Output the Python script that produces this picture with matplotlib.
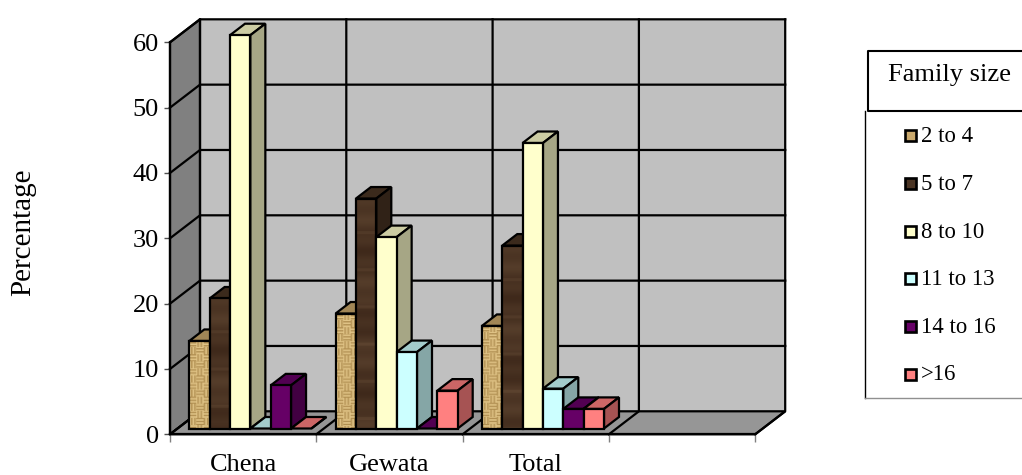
import matplotlib
matplotlib.use('Agg')
import matplotlib.pyplot as plt
from matplotlib.patches import Polygon, Rectangle
import numpy as np

plt.rcParams['font.family'] = ['Liberation Serif', 'DejaVu Serif']

categories = ['Chena', 'Gewata', 'Total']
family_sizes = ['2 to 4', '5 to 7', '8 to 10', '11 to 13', '14 to 16', '>16']
size_2_4 = [13.4, 17.6, 15.7]
size_5_7 = [19.9, 35.2, 28.0]
size_8_10 = [60.2, 29.3, 43.7]
size_11_13 = [0.0, 11.7, 6.1]
size_14_16 = [6.6, 0.0, 3.0]
size_over_16 = [0.0, 5.8, 3.0]
y_ticks = [0, 10, 20, 30, 40, 50, 60]

series = [size_2_4, size_5_7, size_8_10, size_11_13, size_14_16, size_over_16]
front_colors = ['#c9a86c', '#4a3423', '#ffffcc', '#ccffff', '#660066', '#ff8080']

W, H = 1022, 475
CAT_PX = 146.3
VAL_PX = 6.533
LW = 1.6
# depth of the box, of one bar and of the gap in front of the bars, in data units
WALL_DX, WALL_DY = 30 / CAT_PX, 23 / VAL_PX
BAR_DX, BAR_DY = 15 / CAT_PX, 11.5 / VAL_PX
BASE_DX, BASE_DY = 7.7 / CAT_PX, 5.8 / VAL_PX
BAR_START = 19.3 / CAT_PX
BAR_W = 20.35 / CAT_PX
WALL_TOP = 60 + WALL_DY


def shade(hex_color, f):
    rgb = np.array(matplotlib.colors.to_rgb(hex_color))
    return tuple(rgb * f)


def burlap(h_px):
    # woven sacking: blocks of thick threads running alternately across and along
    yy, xx = np.mgrid[0:h_px, 0:20]
    cell = ((xx // 7) + (yy // 7)) % 2
    threads = np.where(cell == 0, np.sin(yy * 2.1), np.sin(xx * 2.1))
    light = np.array([0.90, 0.79, 0.55])
    dark = np.array([0.62, 0.48, 0.24])
    t = (0.62 + 0.38 * threads)[..., None]
    return light * t + dark * (1 - t)


def wood(h_px):
    # dark planks with soft horizontal grain and the odd pale streak
    yy = np.arange(h_px)[:, None]
    grain = 0.5 * np.sin(yy * 0.09) + 0.35 * np.sin(yy * 0.31 + 1.0) + 0.8 * (np.sin(yy * 0.17 + 2.0) > 0.97)
    base = np.array([0.29, 0.20, 0.135])
    img = base[None, None, :] + grain[..., None] * np.array([0.05, 0.045, 0.035])
    return np.clip(np.repeat(img, 4, axis=1), 0, 1)


textures = {0: burlap, 1: wood}

fig = plt.figure(figsize=(W / 100, H / 100), dpi=100)
ax = fig.add_axes([170 / W, 1 - 434.3 / H, 4 * CAT_PX / W, 60 * VAL_PX / H])
ax.patch.set_alpha(0)

# box walls and floor
ax.add_patch(Polygon([(WALL_DX, WALL_DY), (4 + WALL_DX, WALL_DY), (4 + WALL_DX, WALL_TOP), (WALL_DX, WALL_TOP)],
                     closed=True, fc='#c0c0c0', ec='none', clip_on=False, zorder=1))
ax.add_patch(Polygon([(0, 0), (WALL_DX, WALL_DY), (WALL_DX, WALL_TOP), (0, 60)],
                     closed=True, fc='#808080', ec='black', lw=LW, clip_on=False, zorder=1))
ax.add_patch(Polygon([(0, 0), (4, 0), (4 + WALL_DX, WALL_DY), (WALL_DX, WALL_DY)],
                     closed=True, fc='#969696', ec='black', lw=LW, clip_on=False, zorder=1))

# gridlines on the back and left walls
for v in y_ticks[1:]:
    ax.plot([0, WALL_DX, 4 + WALL_DX], [v, v + WALL_DY, v + WALL_DY], color='black', lw=LW,
            clip_on=False, zorder=2, solid_joinstyle='miter')
for c in range(5):
    ax.plot([c, c + WALL_DX, c + WALL_DX], [0, WALL_DY, WALL_TOP], color='black', lw=LW,
            clip_on=False, zorder=2)

# bars, painted left to right so each one hides the side of the previous
z = 3
for c in range(len(categories)):
    for s, values in enumerate(series):
        val = values[c]
        x0 = c + BAR_START + s * BAR_W
        x1 = x0 + BAR_W
        y0 = BASE_DY
        y1 = BASE_DY + val
        col = front_colors[s]
        ax.add_patch(Polygon([(x0, y1), (x1, y1), (x1 + BAR_DX, y1 + BAR_DY), (x0 + BAR_DX, y1 + BAR_DY)],
                             closed=True, fc=shade(col, 0.8), ec='black', lw=LW, clip_on=False, zorder=z))
        ax.add_patch(Polygon([(x1, y0), (x1 + BAR_DX, y0 + BAR_DY), (x1 + BAR_DX, y1 + BAR_DY), (x1, y1)],
                             closed=True, fc=shade(col, 0.65), ec='black', lw=LW, clip_on=False, zorder=z))
        if s in textures and val > 0:
            ax.imshow(textures[s](int(val * VAL_PX)), extent=(x0, x1, y0, y1), aspect='auto', clip_on=False,
                      zorder=z, interpolation='bilinear')
            ax.add_patch(Rectangle((x0, y0), BAR_W, val, fc='none', ec='black', lw=LW, clip_on=False, zorder=z))
        elif val > 0:
            ax.add_patch(Rectangle((x0, y0), BAR_W, val, fc=col, ec='black', lw=LW, clip_on=False, zorder=z))
        z += 1

ax.set_xlim(0, 4)
ax.set_ylim(0, 60)
ax.set_yticks(y_ticks)
ax.set_xticks([0, 1, 2, 3, 4])
ax.set_xticklabels([])
ax.set_xticks([0.5, 1.5, 2.5], labels=categories, minor=True)
ax.tick_params(axis='x', which='minor', length=0, labelsize=19, pad=14)
ax.tick_params(axis='x', which='major', length=6, color='#808080', width=1)
ax.tick_params(axis='y', length=4.5, color='#505050', width=1, labelsize=19, pad=3.5)
for name in ['top', 'right']:
    ax.spines[name].set_visible(False)
for name in ['left', 'bottom']:
    ax.spines[name].set_linewidth(LW)
    ax.spines[name].set_zorder(2.5)
ax.set_ylabel('Percentage', fontsize=21, labelpad=0, va='center')
ax.yaxis.set_label_coords((23.5 - 170) / (4 * CAT_PX), (434.3 - 232.5) / (60 * VAL_PX))

# legend panel, laid out in pixels on an overlay
leg = fig.add_axes([0, 0, 1, 1])
leg.set_xlim(0, W)
leg.set_ylim(H, 0)
leg.axis('off')
leg.patch.set_alpha(0)
leg.plot([1022, 868, 868, 1022], [51, 51, 111, 111], color='black', lw=1.5)
leg.plot([864.5, 864.5], [111, 397.5], color='black', lw=1)
leg.plot([864.5, 1022], [397.5, 397.5], color='#909090', lw=1)
leg.text(949, 75, 'Family size', fontsize=19, ha='center', va='center')
row_y = [135.7, 183.4, 231, 278.7, 326.4, 374]
for label, col, y in zip(family_sizes, front_colors, row_y):
    leg.add_patch(Rectangle((904.7, y - 5.5), 11, 11, fc=col, ec='black', lw=1.9))
    leg.text(921, y + 1, label, fontsize=16.4, ha='left', va='center')

fig.savefig('out.png', dpi=100)
